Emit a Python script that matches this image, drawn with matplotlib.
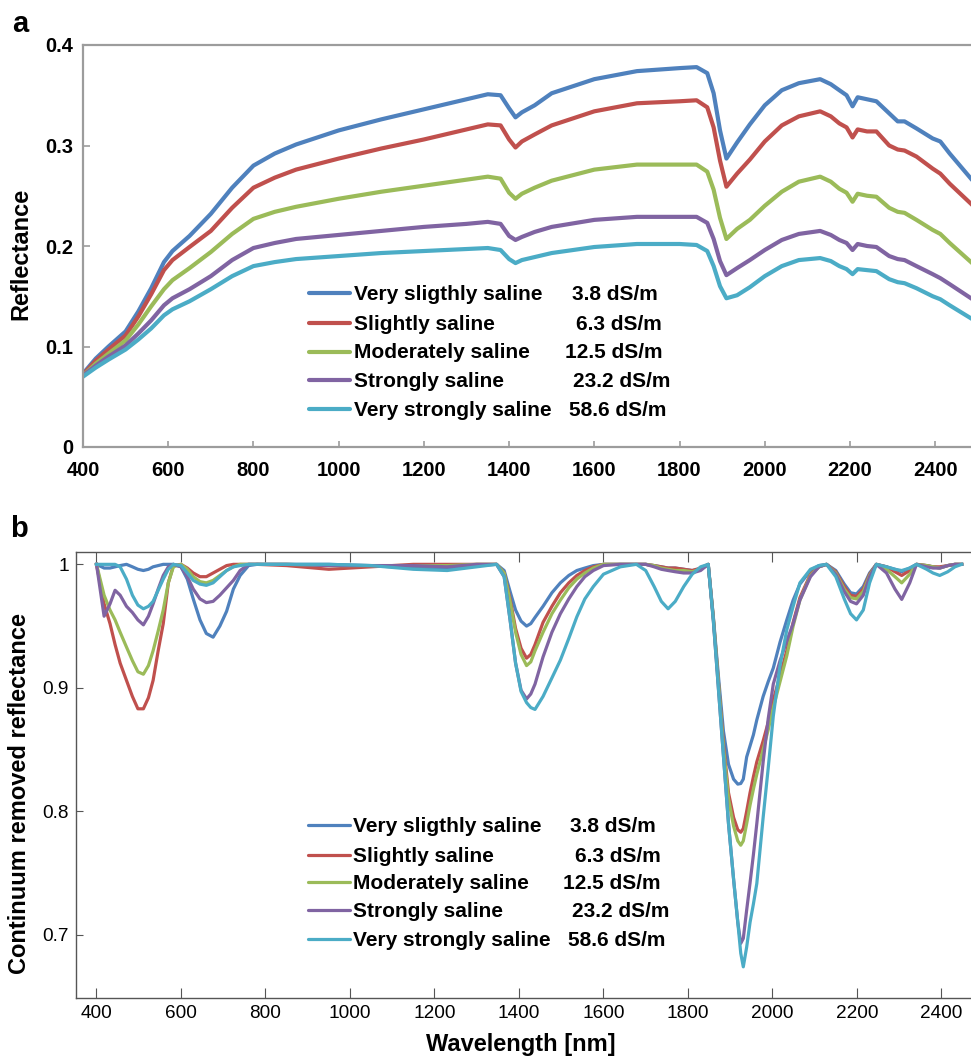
import numpy as np
import matplotlib
matplotlib.use("Agg")
import matplotlib.pyplot as plt
from matplotlib.lines import Line2D
from matplotlib.ticker import FuncFormatter

plt.rcParams.update({"font.family": ["Liberation Sans", "DejaVu Sans"],
                     "font.weight": "bold"})

W_PX, H_PX = 971, 1056

CLASSES = ["Very sligthly saline", "Slightly saline", "Moderately saline",
           "Strongly saline", "Very strongly saline"]
EC_LABELS = ["3.8 dS/m", "6.3 dS/m", "12.5 dS/m", "23.2 dS/m", "58.6 dS/m"]
COLOURS = ["#4F81BD", "#C0504D", "#9BBB59", "#8064A2", "#4BACC6"]

# ── panel a: reflectance spectra ─────────────────────────────────────────────
WL_A = [400, 430, 460, 500, 530, 560, 590, 610, 650, 700,
        750, 800, 850, 900, 1000, 1100, 1200, 1300, 1350, 1380,
        1400, 1415, 1430, 1460, 1500, 1600, 1700, 1800, 1840, 1865,
        1880, 1895, 1910, 1935, 1965, 2000, 2040, 2080, 2130, 2155,
        2175, 2192, 2206, 2218, 2240, 2262, 2292, 2312, 2328, 2356,
        2394, 2412, 2434, 2484]

REFL_VSL = [0.073, 0.088, 0.100, 0.115, 0.135, 0.158, 0.184, 0.195, 0.210, 0.232,
            0.258, 0.280, 0.292, 0.301, 0.315, 0.326, 0.336, 0.346, 0.351, 0.350,
            0.337, 0.328, 0.333, 0.340, 0.352, 0.366, 0.374, 0.377, 0.378, 0.372,
            0.352, 0.315, 0.287, 0.303, 0.321, 0.340, 0.355, 0.362, 0.366, 0.361,
            0.355, 0.350, 0.339, 0.348, 0.346, 0.344, 0.332, 0.324, 0.324, 0.317,
            0.307, 0.304, 0.292, 0.267]
REFL_SL = [0.072, 0.086, 0.097, 0.111, 0.130, 0.152, 0.176, 0.186, 0.199, 0.215,
           0.238, 0.258, 0.268, 0.276, 0.287, 0.297, 0.306, 0.316, 0.321, 0.320,
           0.306, 0.298, 0.304, 0.311, 0.320, 0.334, 0.342, 0.344, 0.345, 0.338,
           0.318, 0.285, 0.259, 0.272, 0.286, 0.304, 0.320, 0.329, 0.334, 0.329,
           0.322, 0.318, 0.308, 0.316, 0.314, 0.314, 0.300, 0.296, 0.295, 0.289,
           0.277, 0.272, 0.262, 0.242]
REFL_MS = [0.071, 0.083, 0.093, 0.106, 0.122, 0.140, 0.157, 0.166, 0.178, 0.194,
           0.212, 0.227, 0.234, 0.239, 0.247, 0.254, 0.260, 0.266, 0.269, 0.267,
           0.253, 0.247, 0.252, 0.258, 0.265, 0.276, 0.281, 0.281, 0.281, 0.274,
           0.256, 0.228, 0.207, 0.217, 0.226, 0.240, 0.254, 0.264, 0.269, 0.264,
           0.257, 0.253, 0.244, 0.252, 0.250, 0.249, 0.238, 0.234, 0.233, 0.226,
           0.216, 0.212, 0.203, 0.184]
REFL_ST = [0.071, 0.081, 0.090, 0.101, 0.113, 0.126, 0.141, 0.148, 0.157, 0.170,
           0.186, 0.198, 0.203, 0.207, 0.211, 0.215, 0.219, 0.222, 0.224, 0.222,
           0.210, 0.206, 0.209, 0.214, 0.219, 0.226, 0.229, 0.229, 0.229, 0.223,
           0.207, 0.185, 0.171, 0.178, 0.186, 0.196, 0.206, 0.212, 0.215, 0.211,
           0.206, 0.203, 0.196, 0.202, 0.200, 0.199, 0.190, 0.187, 0.186, 0.180,
           0.172, 0.168, 0.162, 0.148]
REFL_VST = [0.070, 0.079, 0.087, 0.097, 0.107, 0.118, 0.131, 0.137, 0.145, 0.157,
            0.170, 0.180, 0.184, 0.187, 0.190, 0.193, 0.195, 0.197, 0.198, 0.196,
            0.187, 0.183, 0.186, 0.189, 0.193, 0.199, 0.202, 0.202, 0.201, 0.195,
            0.180, 0.160, 0.148, 0.151, 0.159, 0.170, 0.180, 0.186, 0.188, 0.185,
            0.180, 0.177, 0.172, 0.177, 0.176, 0.175, 0.167, 0.164, 0.163, 0.158,
            0.150, 0.147, 0.141, 0.128]

# ── panel b: continuum removed reflectance ───────────────────────────────────
WL_B = [400, 418, 432, 444, 456, 471, 485, 498, 511, 523,
        534, 546, 558, 570, 582, 600, 615, 629, 645, 660,
        676, 692, 708, 724, 740, 760, 780, 850, 950, 1050,
        1150, 1230, 1300, 1347, 1365, 1379, 1392, 1405, 1418, 1428,
        1438, 1457, 1478, 1498, 1518, 1537, 1556, 1576, 1600, 1640,
        1678, 1700, 1720, 1737, 1753, 1770, 1790, 1810, 1830, 1848,
        1860, 1872, 1884, 1896, 1908, 1918, 1925, 1931, 1939, 1947,
        1955, 1963, 1978, 1990, 2002, 2018, 2034, 2049, 2065, 2090,
        2110, 2128, 2150, 2170, 2185, 2199, 2215, 2230, 2246, 2270,
        2290, 2306, 2325, 2341, 2365, 2380, 2396, 2415, 2432, 2448]

CR_VSL = [1.000, 0.997, 0.997, 0.998, 0.999, 1.000, 0.998, 0.996, 0.995, 0.996,
          0.998, 0.999, 1.000, 1.000, 1.000, 0.998, 0.988, 0.972, 0.955, 0.944,
          0.941, 0.950, 0.962, 0.980, 0.991, 0.999, 1.000, 1.000, 1.000, 0.999,
          0.997, 0.996, 0.999, 1.000, 0.995, 0.978, 0.963, 0.954, 0.950, 0.952,
          0.957, 0.966, 0.977, 0.985, 0.991, 0.995, 0.997, 0.999, 1.000, 1.000,
          1.000, 1.000, 0.999, 0.998, 0.997, 0.997, 0.996, 0.995, 0.996, 1.000,
          0.958, 0.910, 0.865, 0.838, 0.826, 0.822, 0.8225, 0.826, 0.844, 0.853,
          0.862, 0.874, 0.893, 0.905, 0.916, 0.937, 0.955, 0.971, 0.984, 0.995,
          0.999, 1.000, 0.995, 0.984, 0.977, 0.976, 0.982, 0.993, 1.000, 0.998,
          0.996, 0.994, 0.997, 1.000, 0.999, 0.998, 0.997, 0.999, 1.000, 1.000]
CR_SL = [1.000, 0.968, 0.952, 0.935, 0.920, 0.906, 0.893, 0.883, 0.883, 0.892,
         0.906, 0.930, 0.952, 0.985, 0.999, 1.000, 0.997, 0.993, 0.990, 0.990,
         0.993, 0.996, 0.999, 1.000, 1.000, 1.000, 1.000, 0.999, 0.996, 0.998,
         1.000, 1.000, 1.000, 1.000, 0.993, 0.972, 0.948, 0.932, 0.924, 0.927,
         0.935, 0.953, 0.966, 0.977, 0.985, 0.991, 0.995, 0.998, 1.000, 1.000,
         1.000, 1.000, 0.999, 0.998, 0.997, 0.997, 0.996, 0.995, 0.997, 1.000,
         0.957, 0.905, 0.855, 0.815, 0.795, 0.785, 0.783, 0.786, 0.800, 0.815,
         0.828, 0.840, 0.857, 0.872, 0.890, 0.910, 0.930, 0.953, 0.973, 0.992,
         0.998, 1.000, 0.994, 0.982, 0.975, 0.974, 0.980, 0.992, 1.000, 0.998,
         0.994, 0.991, 0.995, 1.000, 0.999, 0.998, 0.998, 0.999, 1.000, 1.000]
CR_MS = [1.000, 0.975, 0.963, 0.955, 0.945, 0.933, 0.922, 0.913, 0.911, 0.918,
         0.930, 0.946, 0.963, 0.985, 0.998, 1.000, 0.996, 0.990, 0.986, 0.985,
         0.987, 0.991, 0.995, 0.998, 1.000, 1.000, 1.000, 1.000, 0.999, 0.999,
         0.999, 0.999, 1.000, 1.000, 0.993, 0.970, 0.945, 0.927, 0.918, 0.921,
         0.930, 0.945, 0.960, 0.971, 0.981, 0.988, 0.993, 0.997, 1.000, 1.000,
         1.000, 1.000, 0.999, 0.997, 0.996, 0.995, 0.995, 0.994, 0.996, 1.000,
         0.957, 0.905, 0.852, 0.810, 0.788, 0.776, 0.7725, 0.776, 0.790, 0.805,
         0.818, 0.830, 0.850, 0.866, 0.884, 0.905, 0.926, 0.950, 0.971, 0.991,
         0.998, 1.000, 0.993, 0.980, 0.973, 0.972, 0.978, 0.991, 1.000, 0.996,
         0.990, 0.985, 0.992, 1.000, 0.999, 0.998, 0.997, 0.999, 1.000, 1.000]
CR_ST = [1.000, 0.958, 0.968, 0.979, 0.975, 0.966, 0.961, 0.955, 0.951, 0.958,
         0.968, 0.980, 0.991, 0.998, 1.000, 0.998, 0.990, 0.980, 0.972, 0.969,
         0.970, 0.975, 0.981, 0.987, 0.995, 1.000, 1.000, 1.000, 0.999, 0.999,
         0.999, 0.998, 1.000, 1.000, 0.990, 0.955, 0.920, 0.898, 0.891, 0.895,
         0.903, 0.925, 0.945, 0.960, 0.972, 0.982, 0.990, 0.995, 0.999, 1.000,
         1.000, 1.000, 0.998, 0.996, 0.995, 0.994, 0.993, 0.993, 0.995, 1.000,
         0.955, 0.900, 0.845, 0.790, 0.745, 0.710, 0.693, 0.697, 0.720, 0.742,
         0.765, 0.790, 0.840, 0.875, 0.903, 0.922, 0.938, 0.952, 0.971, 0.990,
         0.998, 1.000, 0.992, 0.978, 0.970, 0.968, 0.975, 0.990, 1.000, 0.993,
         0.980, 0.9716, 0.985, 1.000, 0.998, 0.997, 0.997, 0.999, 1.000, 1.000]
CR_VST = [1.000, 1.000, 1.000, 1.000, 0.998, 0.988, 0.975, 0.967, 0.964, 0.966,
          0.970, 0.979, 0.988, 0.996, 1.000, 0.999, 0.993, 0.987, 0.984, 0.983,
          0.985, 0.990, 0.995, 0.998, 0.999, 1.000, 1.000, 1.000, 1.000, 0.999,
          0.996, 0.995, 0.998, 1.000, 0.990, 0.955, 0.920, 0.897, 0.888, 0.884,
          0.8825, 0.893, 0.908, 0.9224, 0.940, 0.9575, 0.972, 0.982, 0.992, 0.998,
          1.000, 0.995, 0.982, 0.970, 0.964, 0.970, 0.982, 0.992, 0.998, 1.000,
          0.955, 0.900, 0.845, 0.790, 0.745, 0.710, 0.685, 0.674, 0.690, 0.710,
          0.725, 0.7415, 0.795, 0.835, 0.877, 0.918, 0.947, 0.966, 0.985, 0.996,
          0.999, 1.000, 0.990, 0.972, 0.960, 0.955, 0.963, 0.985, 1.000, 0.998,
          0.996, 0.995, 0.997, 1.000, 0.996, 0.993, 0.991, 0.994, 0.998, 1.000]

SERIES_A = [REFL_VSL, REFL_SL, REFL_MS, REFL_ST, REFL_VST]
SERIES_B = [CR_VSL, CR_SL, CR_MS, CR_ST, CR_VST]


def fx(px):
    return px / W_PX


def fy(py):
    return 1 - py / H_PX


fig = plt.figure(figsize=(W_PX / 100, H_PX / 100), dpi=100)

# ── a ─────────────────────────────────────────────────────────────────────────
ax_a = fig.add_axes([fx(83), fy(447), 1 - fx(83), fy(45) - fy(447)])
for vals, col in zip(SERIES_A, COLOURS):
    ax_a.plot(WL_A, vals, color=col, lw=3.0, solid_joinstyle="round")
ax_a.set_xlim(400, 2484)
ax_a.set_ylim(0, 0.4)
ax_a.set_xticks(np.arange(400, 2401, 200))
ax_a.set_yticks([0, 0.1, 0.2, 0.3, 0.4])
ax_a.yaxis.set_major_formatter(FuncFormatter(lambda v, _: f"{v:g}"))
for side in ["left", "bottom", "top"]:
    ax_a.spines[side].set_color("#9c9c9c")
    ax_a.spines[side].set_linewidth(1.6)
ax_a.spines["right"].set_visible(False)
ax_a.tick_params(direction="in", color="#9c9c9c", width=1.2, labelsize=14.5)
ax_a.tick_params(axis="x", length=4, pad=10)
ax_a.tick_params(axis="y", length=5, pad=7)
ax_a.set_ylabel("Reflectance", fontsize=17, fontweight="bold")
ax_a.yaxis.set_label_coords(-0.057, 0.48)

# ── b ─────────────────────────────────────────────────────────────────────────
ax_b = fig.add_axes([fx(76), fy(997.7), 1 - fx(76), fy(552) - fy(997.7)])
for vals, col in zip(SERIES_B, COLOURS):
    ax_b.plot(WL_B, vals, color=col, lw=2.3, solid_joinstyle="round")
ax_b.set_xlim(351.5, 2470)
ax_b.set_ylim(0.649, 1.01)
ax_b.set_xticks(np.arange(400, 2401, 200))
ax_b.set_yticks([0.7, 0.8, 0.9, 1.0])
ax_b.yaxis.set_major_formatter(FuncFormatter(lambda v, _: f"{v:g}"))
for side in ["left", "bottom", "top"]:
    ax_b.spines[side].set_color("#555555")
    ax_b.spines[side].set_linewidth(1.0)
ax_b.spines["right"].set_visible(False)
ax_b.tick_params(direction="in", color="#555555", labelsize=13.7)
ax_b.tick_params(axis="x", length=7, pad=5, top=True)
ax_b.tick_params(axis="y", length=5, pad=5)
for lab in ax_b.get_xticklabels() + ax_b.get_yticklabels():
    lab.set_fontweight("normal")
ax_b.set_ylabel("Continuum removed reflectance", fontsize=17, fontweight="bold")
ax_b.yaxis.set_label_coords(-0.050, 0.459)
ax_b.set_xlabel("Wavelength [nm]", fontsize=17, fontweight="bold")
ax_b.xaxis.set_label_coords(0.497, -0.080)

# ── legends (name + EC column) ────────────────────────────────────────────────
def draw_legend(row_y, line_x, text_x, value_x, lw):
    for i, (name, ec, col) in enumerate(zip(CLASSES, EC_LABELS, COLOURS)):
        y = row_y[i]
        fig.add_artist(Line2D([fx(line_x[0]), fx(line_x[1])], [fy(y), fy(y)],
                              color=col, lw=lw, solid_capstyle="round",
                              transform=fig.transFigure))
        fig.text(fx(text_x), fy(y + 7), name, fontsize=15,
                 fontweight="bold", va="baseline")
        fig.text(fx(value_x[i]), fy(y + 7), ec, fontsize=15,
                 fontweight="bold", va="baseline")


draw_legend([293, 322.5, 351.5, 380, 409], (309, 350), 354,
            [572, 576, 565, 573, 569], 3.0)
draw_legend([825, 855, 882, 910, 939], (308, 350), 353,
            [570, 575, 563, 572, 568], 2.3)

fig.text(fx(12), fy(32), "a", fontsize=21, fontweight="bold", va="baseline")
fig.text(fx(10), fy(537), "b", fontsize=21, fontweight="bold", va="baseline")

fig.savefig("out.png", dpi=100)
